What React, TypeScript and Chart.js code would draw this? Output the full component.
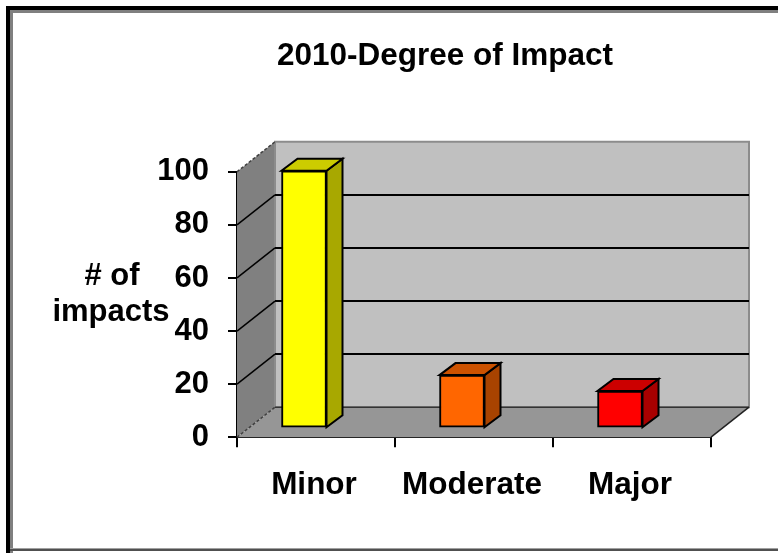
import React, { useEffect, useRef } from "react";
import { Chart, registerables } from "chart.js";

Chart.register(...registerables);

const categories = ["Minor", "Moderate", "Major"];
const impacts = [97, 20, 14];
const barFaces = ["#ffff00", "#ff6600", "#ff0000"];
const barTops = ["#cccc00", "#cc5200", "#cc0000"];
const barSides = ["#a8a800", "#a84300", "#a80000"];
const yTicks = [0, 20, 40, 60, 80, 100];
const yTitleLines = ["# of", "impacts"];

const FONT = "'Liberation Sans', Arial, sans-serif";
const WALL_DX = 38;
const WALL_DY = 30;
const BAR_DX = 12;
const BAR_DY = 9;
const SIDE_DX = 16;
const SIDE_DY = 12;

const poly = (ctx: CanvasRenderingContext2D, pts: number[][], fill?: string, stroke?: string, w = 1) => {
  ctx.beginPath();
  pts.forEach((p, i) => (i ? ctx.lineTo(p[0], p[1]) : ctx.moveTo(p[0], p[1])));
  ctx.closePath();
  if (fill) {
    ctx.fillStyle = fill;
    ctx.fill();
  }
  if (stroke) {
    ctx.strokeStyle = stroke;
    ctx.lineWidth = w;
    ctx.stroke();
  }
};

const line = (ctx: CanvasRenderingContext2D, x1: number, y1: number, x2: number, y2: number, color: string, w: number) => {
  ctx.beginPath();
  ctx.moveTo(x1, y1);
  ctx.lineTo(x2, y2);
  ctx.strokeStyle = color;
  ctx.lineWidth = w;
  ctx.stroke();
};

const scene = {
  id: "scene",
  afterLayout(chart: any) {
    if (chart.titleBlock) {
      chart.titleBlock.left = 112;
      chart.titleBlock.right = 778;
    }
  },
  beforeDraw(chart: any) {
    const { ctx, width, height } = chart;
    ctx.save();
    ctx.fillStyle = "#ffffff";
    ctx.fillRect(0, 0, width, height);
    ctx.fillStyle = "#000000";
    ctx.fillRect(6, 6, width - 6, 4);
    ctx.fillRect(6, 6, 4, height - 6);
    ctx.fillStyle = "#808080";
    ctx.fillRect(10, 10, width - 10, 3);
    ctx.fillRect(10, 10, 3, height - 10);
    ctx.fillStyle = "#a0a0a0";
    ctx.fillRect(10, height - 5, width - 10, 1);
    ctx.fillStyle = "#505050";
    ctx.fillRect(10, height - 4, width - 10, 2);
    ctx.restore();
  },
  beforeDatasetsDraw(chart: any) {
    const { ctx, chartArea: a, scales } = chart;
    const y = scales.y;
    const y0 = y.getPixelForValue(0);
    const yT = y.getPixelForValue(100);
    ctx.save();
    poly(ctx, [[a.left, y0], [a.left + WALL_DX, y0 - WALL_DY], [a.left + WALL_DX, yT - WALL_DY], [a.left, yT]], "#808080");
    poly(ctx, [[a.left + WALL_DX, y0 - WALL_DY], [a.right + WALL_DX, y0 - WALL_DY], [a.right + WALL_DX, yT - WALL_DY], [a.left + WALL_DX, yT - WALL_DY]], "#c0c0c0", "#8c8c8c", 2);
    poly(ctx, [[a.left, y0], [a.right, y0], [a.right + WALL_DX, y0 - WALL_DY], [a.left + WALL_DX, y0 - WALL_DY]], "#969696");
    yTicks.forEach((t) => {
      const p = y.getPixelForValue(t);
      if (t > 0 && t < 100) {
        line(ctx, a.left, p, a.left + WALL_DX, p - WALL_DY, "#000000", 1.5);
        line(ctx, a.left + WALL_DX, p - WALL_DY, a.right + WALL_DX, p - WALL_DY, "#000000", 2);
      }
    });
    ctx.setLineDash([3, 2]);
    line(ctx, a.left, yT, a.left + WALL_DX, yT - WALL_DY, "#404040", 1.5);
    line(ctx, a.left, y0, a.left + WALL_DX, y0 - WALL_DY, "#404040", 1.5);
    ctx.setLineDash([]);
    line(ctx, a.left + WALL_DX, y0 - WALL_DY, a.right + WALL_DX, y0 - WALL_DY, "#333333", 1.5);
    line(ctx, a.right, y0, a.right + WALL_DX, y0 - WALL_DY, "#222222", 1.5);
    ctx.save();
    ctx.translate(-BAR_DX, -BAR_DY);
    chart.getDatasetMeta(0).data.forEach((bar: any, i: number) => {
      const p = bar.getProps(["x", "y", "base", "width"], true);
      const l = p.x - p.width / 2;
      const r = p.x + p.width / 2;
      poly(ctx, [[r, p.base], [r + SIDE_DX, p.base - SIDE_DY], [r + SIDE_DX, p.y - SIDE_DY], [r, p.y]], barSides[i], "#000000", 2);
      poly(ctx, [[l, p.y], [r, p.y], [r + SIDE_DX, p.y - SIDE_DY], [l + SIDE_DX, p.y - SIDE_DY]], barTops[i], "#000000", 2);
    });
    ctx.restore();
    ctx.translate(-BAR_DX, -BAR_DY);
  },
  afterDatasetsDraw(chart: any) {
    const { ctx } = chart;
    ctx.restore();
    ctx.save();
    ctx.fillStyle = "#000000";
    ctx.font = `bold 31px ${FONT}`;
    ctx.textAlign = "center";
    ctx.textBaseline = "middle";
    ctx.fillText(yTitleLines[0], 112, 276);
    ctx.fillText(yTitleLines[1], 111, 312);
    ctx.restore();
  },
};

export default function App() {
  const ref = useRef<HTMLCanvasElement>(null);
  useEffect(() => {
    document.body.style.margin = "0";
    const chart = new Chart(ref.current!, {
      type: "bar",
      data: {
        labels: categories,
        datasets: [
          {
            data: impacts,
            backgroundColor: barFaces,
            borderColor: "#000000",
            borderWidth: 2,
            borderSkipped: false,
            barThickness: 45,
            clip: false,
          } as any,
        ],
      },
      options: {
        responsive: false,
        animation: false,
        layout: { padding: { left: 0, right: 67, top: 25, bottom: 30 } },
        plugins: {
          legend: { display: false },
          tooltip: { enabled: false },
          title: {
            display: true,
            text: "2010-Degree of Impact",
            color: "#000000",
            font: { family: FONT, size: 31.5, weight: "bold" },
            padding: { top: 12, bottom: 97 },
          },
        },
        scales: {
          x: {
            offset: true,
            grid: { offset: true, drawOnChartArea: false, drawTicks: true, tickLength: 10, color: "#000000", lineWidth: 2 },
            border: { color: "#000000", width: 2 },
            ticks: { color: "#000000", font: { family: FONT, size: 31.5, weight: "bold" }, padding: 19, maxRotation: 0, labelOffset: -2 },
          },
          y: {
            min: 0,
            max: 100,
            afterFit: (s: any) => {
              s.width = 237;
            },
            grid: { drawOnChartArea: false, drawTicks: true, tickLength: 9, color: "#000000", lineWidth: 2 },
            border: { color: "#000000", width: 2 },
            ticks: { stepSize: 20, color: "#000000", font: { family: FONT, size: 31, weight: "bold" }, padding: 19, labelOffset: 0 },
          },
        },
      },
      plugins: [scene],
    } as any);
    return () => chart.destroy();
  }, []);
  return <canvas ref={ref} width={778} height={553} style={{ display: "block" }} />;
}
